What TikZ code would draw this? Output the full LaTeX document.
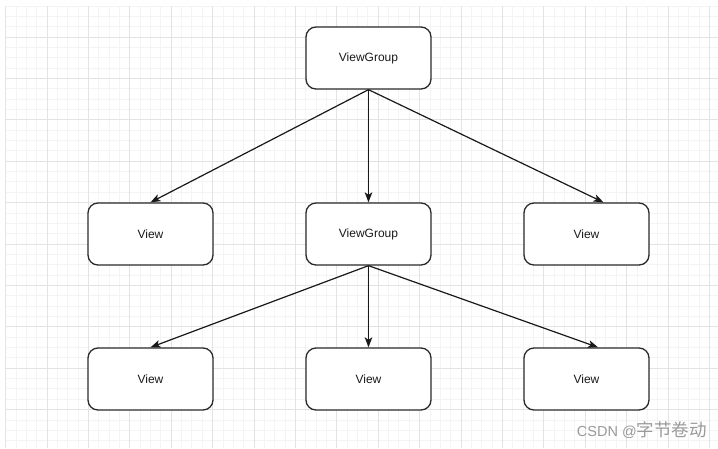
\documentclass[tikz,border=0pt]{standalone}
\usepackage{fontspec}
\setmainfont{Liberation Sans}
\newfontfamily\cjkfont{Noto Sans CJK SC}
\usetikzlibrary{arrows.meta,calc}
\definecolor{gridminor}{HTML}{F4F4F4}
\definecolor{gridmajor}{HTML}{E3E3E3}
\definecolor{boxline}{HTML}{2A2A2A}
\definecolor{wmark}{HTML}{9A9A9A}
\tikzset{
  vbox/.style={draw=boxline, line width=1.3pt, rounded corners=10pt, fill=white,
    minimum width=125pt, minimum height=62pt, inner sep=0pt,
    font=\fontsize{12}{14}\selectfont, text=black!90},
  conn/.style={draw=black!90, line width=1.2pt,
    -{Stealth[length=10pt,width=7.5pt,inset=2.5pt]}},
  gminor/.style={draw=gridminor, line width=0.9pt},
  gmajor/.style={draw=gridmajor, line width=0.9pt}
}
\begin{document}
\begin{tikzpicture}[x=1pt,y=-1pt]
\useasboundingbox (0,0) rectangle (718,448);
\fill[white] (0,0) rectangle (718,448);
% grid
\foreach \i in {-4,...,64}{
  \pgfmathsetmacro{\xx}{47+10.35*\i}
  \draw[gminor] (\xx,6) -- (\xx,448);
}
\foreach \j in {-3,...,39}{
  \pgfmathsetmacro{\yy}{37+10.35*\j}
  \draw[gminor] (5.6,\yy) -- (718,\yy);
}
\foreach \i in {-1,...,16}{
  \pgfmathsetmacro{\xx}{47+41.4*\i}
  \draw[gmajor] (\xx,6) -- (\xx,448);
}
\foreach \j in {0,...,9}{
  \pgfmathsetmacro{\yy}{37+41.4*\j}
  \draw[gmajor] (5.6,\yy) -- (718,\yy);
}
% nodes
\node[vbox] (top) at (368.5,58) {ViewGroup};
\node[vbox] (m1) at (150.5,234) {View};
\node[vbox] (m2) at (368.5,234) {ViewGroup};
\node[vbox] (m3) at (586.5,234) {View};
\node[vbox] (b1) at (150.5,379) {View};
\node[vbox] (b2) at (368.5,379) {View};
\node[vbox] (b3) at (586.5,379) {View};
% connectors
\draw[conn] (top.south) -- (m1.north);
\draw[conn] (top.south) -- (m2.north);
\draw[conn] (top.south) -- ([xshift=17pt]m3.north);
\draw[conn] (m2.south) -- (b1.north);
\draw[conn] (m2.south) -- (b2.north);
\draw[conn] (m2.south) -- ([xshift=11.5pt]b3.north);
% watermark
\node[anchor=east, text=wmark, inner sep=0pt] (wm) at (707,430)
  {\fontsize{14.5}{16}\selectfont CSDN @\cjkfont\fontsize{17.5}{18}\selectfont 字节卷动};
\end{tikzpicture}
\end{document}
